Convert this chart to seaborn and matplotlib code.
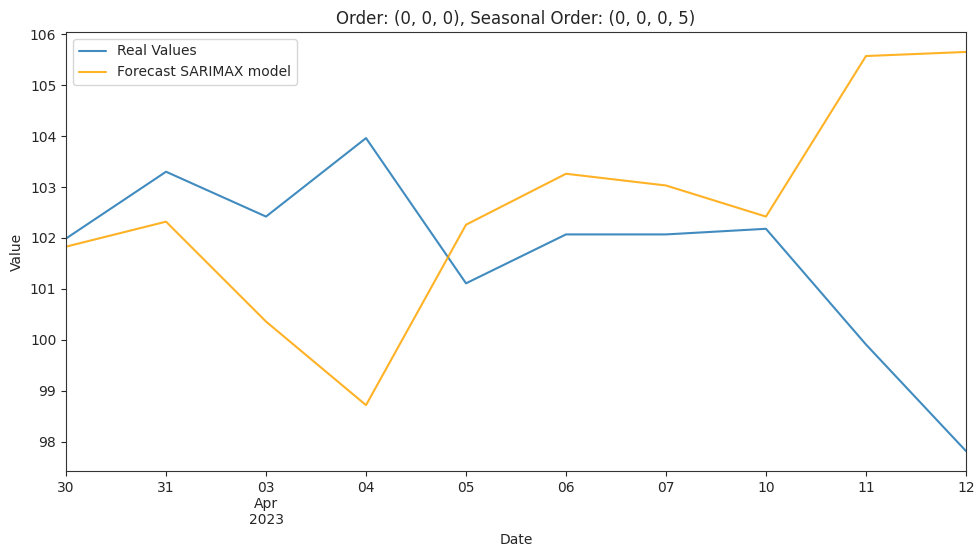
import matplotlib
matplotlib.use("Agg")
import matplotlib.pyplot as plt
import seaborn as sns
import pandas as pd

dates = ["2023-03-30", "2023-03-31", "2023-04-03", "2023-04-04", "2023-04-05",
         "2023-04-06", "2023-04-07", "2023-04-10", "2023-04-11", "2023-04-12"]
tick_labels = ["30", "31", "03\nApr\n2023", "04", "05", "06", "07", "10", "11", "12"]
real_values = [101.99, 103.30, 102.42, 103.96, 101.11, 102.07, 102.07, 102.18, 99.91, 97.82]
forecast_values = [101.83, 102.32, 100.36, 98.72, 102.26, 103.26, 103.03, 102.42, 105.57, 105.65]

sns.set_style("ticks")
plt.rcParams['font.family'] = ['DejaVu Sans']

df = pd.DataFrame({"pos": range(len(dates)), "Date": pd.to_datetime(dates),
                   "real": real_values, "forecast": forecast_values})

fig, ax = plt.subplots(figsize=(9.77, 5.47), dpi=100)
fig.subplots_adjust(left=0.0676, right=0.9887, top=0.9415, bottom=0.139)

sns.lineplot(data=df, x="pos", y="real", ax=ax, color="#1f77b4", alpha=0.85,
             linewidth=1.5, label="Real Values")
sns.lineplot(data=df, x="pos", y="forecast", ax=ax, color="orange", alpha=0.85,
             linewidth=1.5, label="Forecast SARIMAX model")

ax.set_xlim(0, len(dates) - 1)
ax.set_xticks(list(range(len(dates))))
ax.set_xticklabels(tick_labels)
ax.set_xlabel("Date")
ax.set_ylabel("Value")
ax.set_title("Order: (0, 0, 0), Seasonal Order: (0, 0, 0, 5)", fontsize=12)
for s in ax.spines.values():
    s.set_visible(True)
    s.set_color("#333333")
ax.legend(loc="upper left")

fig.savefig("out.png", dpi=100)
